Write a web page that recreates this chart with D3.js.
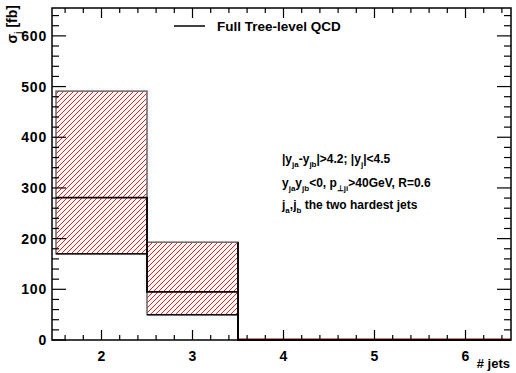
<!DOCTYPE html>
<html>
<head>
<meta charset="utf-8">
<script src="https://cdn.jsdelivr.net/npm/d3@7"></script>
<style>
  body { margin: 0; background: #fff; }
  text { font-family: "Liberation Sans", Arial, sans-serif; font-weight: bold; fill: #000; }
</style>
</head>
<body>
<div class="box"></div>
<script>
// Data
const jets = [2, 3, 4, 5, 6];
const central = [281, 95, 0, 0, 0];
const lower = [170, 50, 0, 0, 0];
const upper = [491, 193, 0, 0, 0];

const xTicks = [2, 3, 4, 5, 6];
const yTicks = [0, 100, 200, 300, 400, 500, 600];

const legendLabel = "Full Tree-level QCD";

// SVG
const w = 516;
const h = 373;
const padL = 52, padR = 511, padT = 8, padB = 340;

const svg = d3.select(".box")
    .append("svg")
    .attr("width", w)
    .attr("height", h);

// axis range starts a little left of 1.5 (as in the original)
const x = d3.scaleLinear().domain([1.456, 6.5]).range([padL, padR]);
const y = d3.scaleLinear().domain([0, 655]).range([padB, padT]);

// hatch pattern
const defs = svg.append("defs");
const pat = defs.append("pattern")
    .attr("id", "hatch")
    .attr("patternUnits", "userSpaceOnUse")
    .attr("width", 5)
    .attr("height", 5);
pat.append("path")
    .attr("d", "M-1,1 l2,-2 M0,5 l5,-5 M4,6 l2,-2")
    .attr("stroke", "#ff0000")
    .attr("stroke-width", 0.9);

// error band boxes
const bins = jets.map((j, i) => ({j: j, c: central[i], lo: lower[i], hi: upper[i]}));

svg.selectAll(".band")
    .data(bins.filter(d => d.hi > d.lo))
    .enter()
    .append("rect")
    .attr("class", "band")
    .attr("x", d => x(d.j - 0.5))
    .attr("y", d => y(d.hi))
    .attr("width", d => x(d.j + 0.5) - x(d.j - 0.5))
    .attr("height", d => y(d.lo) - y(d.hi))
    .attr("fill", "url(#hatch)")
    .attr("stroke", "#666")
    .attr("stroke-width", 1.5);

// lower edges drawn darker
svg.selectAll(".loedge")
    .data(bins.filter(d => d.hi > d.lo))
    .enter()
    .append("line")
    .attr("x1", d => x(d.j - 0.5))
    .attr("x2", d => x(d.j + 0.5))
    .attr("y1", d => y(d.lo))
    .attr("y2", d => y(d.lo))
    .attr("stroke", "#111")
    .attr("stroke-width", 1.5);

// red baseline for empty bins
svg.append("line")
    .attr("x1", x(3.5)).attr("x2", x(6.5))
    .attr("y1", y(0) - 1).attr("y2", y(0) - 1)
    .attr("stroke", "#c00000")
    .attr("stroke-width", 1.2);

// central step line
const stepPts = [];
bins.forEach(d => {
    stepPts.push([x(d.j - 0.5), y(d.c)]);
    stepPts.push([x(d.j + 0.5), y(d.c)]);
});
svg.append("path")
    .attr("d", d3.line()(stepPts))
    .attr("fill", "none")
    .attr("stroke", "#000")
    .attr("stroke-width", 1.8);

// vertical line from bin 3 top down
svg.append("line")
    .attr("x1", x(3.5)).attr("x2", x(3.5))
    .attr("y1", y(upper[1])).attr("y2", y(0))
    .attr("stroke", "#000")
    .attr("stroke-width", 1.8);

// FRAME
svg.append("rect")
    .attr("x", padL).attr("y", padT)
    .attr("width", padR - padL).attr("height", padB - padT)
    .attr("fill", "none")
    .attr("stroke", "#000")
    .attr("stroke-width", 1.5);

// ticks (ROOT style, inward, on all four sides)
const yMinor = d3.range(0, 656, 20);
const xMinor = d3.range(1.6, 6.5, 0.2);

const tickG = svg.append("g").attr("stroke", "#000").attr("stroke-width", 1.2);
yMinor.forEach(v => {
    const major = v % 100 === 0;
    const len = major ? 14 : 7;
    tickG.append("line").attr("x1", padL).attr("x2", padL + len).attr("y1", y(v)).attr("y2", y(v));
    tickG.append("line").attr("x1", padR).attr("x2", padR - len).attr("y1", y(v)).attr("y2", y(v));
});
xMinor.forEach(v => {
    const major = Math.abs(v - Math.round(v)) < 0.01;
    const len = major ? 10 : 5;
    tickG.append("line").attr("x1", x(v)).attr("x2", x(v)).attr("y1", padB).attr("y2", padB - len);
    tickG.append("line").attr("x1", x(v)).attr("x2", x(v)).attr("y1", padT).attr("y2", padT + len);
});

// tick labels
svg.selectAll(".ylab")
    .data(yTicks)
    .enter()
    .append("text")
    .attr("x", padL - 5)
    .attr("y", d => y(d) + 5)
    .attr("text-anchor", "end")
    .style("font-size", "14px")
    .style("letter-spacing", "0.8px")
    .text(d => d);

svg.selectAll(".xlab")
    .data(xTicks)
    .enter()
    .append("text")
    .attr("x", d => x(d))
    .attr("y", padB + 21)
    .attr("text-anchor", "middle")
    .style("font-size", "14px")
    .text(d => d);

// axis titles
svg.append("text")
    .attr("x", 510)
    .attr("y", 368)
    .attr("text-anchor", "end")
    .style("font-size", "13px")
    .text("# jets");

const yt = svg.append("text")
    .attr("transform", "translate(17,5) rotate(-90)")
    .attr("text-anchor", "end")
    .style("font-size", "14px");
yt.append("tspan").text("σ");
yt.append("tspan").attr("dy", 4).style("font-size", "9px").text("j");
yt.append("tspan").attr("dy", -4).text(" [fb]");

// LEGEND
svg.append("line")
    .attr("x1", 174).attr("x2", 205)
    .attr("y1", 26).attr("y2", 26)
    .attr("stroke", "#000")
    .attr("stroke-width", 1.5);
svg.append("text")
    .attr("x", 217)
    .attr("y", 31)
    .style("font-size", "13.5px")
    .text(legendLabel);

// annotation
function subLine(yPos, parts) {
    const t = svg.append("text")
        .attr("x", 282)
        .attr("y", yPos)
        .style("font-size", "12px");
    let shift = 0;
    parts.forEach(p => {
        const s = p[1] ? 3.5 : 0;
        t.append("tspan")
            .attr("dy", s - shift)
            .style("font-size", p[1] ? "8px" : "12px")
            .text(p[0]);
        shift = s;
    });
}
subLine(163, [["|y", 0], ["ja", 1], ["-y", 0], ["jb", 1], ["|>4.2; |y", 0], ["j", 1], ["|<4.5", 0]]);
subLine(187, [["y", 0], ["ja", 1], ["y", 0], ["jb", 1], ["<0, p", 0], ["⊥ji", 1], [">40GeV, R=0.6", 0]]);
subLine(209, [["j", 0], ["a", 1], [",j", 0], ["b", 1], [" the two hardest jets", 0]]);
</script>
</body>
</html>
